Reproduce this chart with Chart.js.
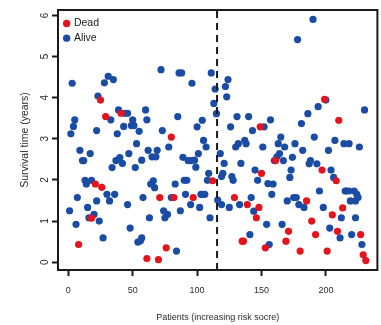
<!DOCTYPE html>
<html>
<head>
<meta charset="utf-8">
<script src="https://cdn.jsdelivr.net/npm/chart.js@4/dist/chart.umd.min.js"></script>
<style>
  html, body { margin: 0; padding: 0; background: #ffffff; }
  canvas { display: block; }
</style>
</head>
<body>
<canvas id="chart" width="381" height="325"></canvas>
<script>
// Patients ordered by increasing risk score (index) and their survival time in years.
const deadPatient = [8, 18, 21, 25, 26, 29, 41, 61, 70, 71, 76, 80, 82, 97, 112, 129, 135, 136, 139, 146,
  148, 149, 150, 153, 161, 169, 171, 180, 185, 189, 192, 197, 199, 201, 205, 208, 209, 210, 213, 227, 229, 231];
const deadYears = [0.43, 1.07, 1.90, 3.94, 1.82, 3.54, 3.62, 0.09, 0.06, 1.57, 0.35, 3.04, 1.57, 1.57, 1.98, 1.57, 0.51, 0.51, 1.40, 1.08,
  1.33, 3.29, 2.16, 0.35, 2.47, 0.51, 0.75, 0.27, 1.49, 1.00, 0.67, 2.24, 3.96, 0.27, 1.15, 1.98, 0.75, 3.45, 1.32, 0.67, 0.18, 0.04];

const alivePatient = [1, 2, 3, 4, 5, 6, 7, 9, 11, 12, 13, 14, 15, 16, 17, 18, 20, 22, 22, 23,
  24, 27, 28, 30, 31, 32, 33, 34, 35, 36, 37, 38, 39, 40, 42, 43, 44, 46, 46, 47,
  48, 49, 50, 51, 52, 53, 54, 55, 56, 57, 57, 58, 60, 61, 62, 63, 64, 65, 66, 67,
  68, 69, 72, 73, 74, 75, 77, 78, 80, 83, 84, 85, 86, 87, 88, 89, 90, 91, 92, 93,
  95, 95, 96, 98, 99, 100, 101, 102, 103, 104, 104, 105, 106, 107, 108, 109, 110, 111, 113, 114,
  115, 116, 118, 119, 119, 120, 121, 122, 123, 124, 125, 126, 127, 128, 130, 131, 132, 133, 134, 137,
  138, 140, 141, 142, 143, 144, 145, 147, 151, 152, 154, 155, 156, 157, 158, 159, 160, 162, 163, 164,
  165, 166, 167, 168, 170, 172, 173, 174, 175, 176, 177, 178, 179, 181, 182, 183, 186, 187, 188, 190,
  191, 193, 194, 195, 198, 200, 202, 203, 204, 206, 207, 211, 212, 214, 215, 216, 218, 218, 219, 220,
  222, 223, 223, 224, 225, 226, 228, 230];
const aliveYears = [1.25, 3.12, 4.35, 3.30, 3.46, 0.92, 1.57, 2.72, 2.47, 2.47, 1.99, 1.90, 1.33, 1.08, 2.64, 1.99, 1.16, 3.20, 1.49, 4.04,
  1.00, 0.59, 4.36, 1.65, 4.52, 1.49, 3.46, 2.30, 4.44, 1.65, 2.47, 3.12, 3.70, 2.54, 2.40, 3.30, 3.62, 3.62, 1.40, 2.64,
  0.83, 3.32, 3.46, 3.32, 2.30, 2.88, 0.49, 3.18, 0.52, 2.48, 0.59, 1.57, 3.70, 3.46, 2.72, 1.08, 1.90, 2.56, 1.98, 1.81,
  2.56, 2.72, 4.68, 3.20, 1.25, 1.08, 1.16, 2.80, 1.57, 1.90, 0.27, 3.54, 4.60, 1.25, 4.60, 2.55, 1.99, 1.65, 1.99, 2.47,
  2.47, 1.40, 4.35, 2.48, 2.31, 3.29, 2.64, 1.33, 1.65, 3.45, 1.65, 2.96, 1.65, 2.80, 1.99, 2.16, 1.08, 4.60, 3.86, 4.21,
  3.61, 1.51, 2.64, 2.08, 1.40, 2.16, 2.40, 4.27, 4.02, 4.44, 1.33, 3.29, 2.08, 1.99, 2.80, 3.54, 2.88, 1.40, 2.40, 2.96,
  2.88, 3.54, 0.67, 1.57, 3.20, 1.24, 2.24, 1.99, 2.80, 3.29, 0.92, 1.91, 0.43, 3.46, 1.65, 1.90, 2.47, 2.56, 2.88, 2.64,
  3.04, 0.92, 2.47, 2.80, 1.49, 2.06, 2.24, 2.55, 1.57, 2.88, 1.57, 5.41, 1.40, 3.37, 2.72, 1.33, 3.61, 2.39, 2.47, 5.90,
  3.04, 2.39, 3.78, 1.73, 1.33, 3.94, 2.72, 0.83, 2.24, 2.06, 2.96, 0.59, 1.08, 2.88, 1.73, 1.73, 2.88, 1.73, 1.49, 0.67,
  1.73, 1.49, 1.08, 1.65, 1.57, 2.80, 0.43, 3.70];

const seriesLabels = ['Dead', 'Alive'];
const xTicks = [0, 50, 100, 150, 200];
const yTicks = [0, 1, 2, 3, 4, 5, 6];
const xRange = [-8, 240];
const yRange = [-0.19, 6.13];
const riskCutoff = 115.5;

const RED = '#e3141d';
const BLUE = '#1b4ca3';
const INK = '#1a1a1a';
const TEXT = '#2a2a2a';
const SANS = "'Liberation Sans', Arial, sans-serif";

const toPoints = (xs, ys) => xs.map((x, i) => ({ x, y: ys[i] }));

// Frame around the plotting region
const frame = {
  id: 'frame',
  afterDatasetsDraw(chart) {
    const { ctx, chartArea: a } = chart;
    ctx.save();
    ctx.strokeStyle = INK;
    ctx.lineWidth = 2;
    ctx.strokeRect(a.left, a.top, a.right - a.left, a.bottom - a.top);
    ctx.restore();
  }
};

// Put the key just inside the upper-left corner of the plot
const keyPlacement = {
  id: 'keyPlacement',
  afterLayout(chart) {
    const lg = chart.legend;
    const a = chart.chartArea;
    if (!lg) return;
    lg.left = a.left + 2.4;
    lg.top = a.top + 4;
    lg.right = a.right;
    lg.bottom = a.bottom;
  }
};

new Chart(document.getElementById('chart'), {
  type: 'scatter',
  data: {
    datasets: [
      {
        label: seriesLabels[0],
        data: toPoints(deadPatient, deadYears),
        backgroundColor: RED,
        borderWidth: 0,
        pointRadius: 3.6,
        pointHoverRadius: 3.6,
        order: 1
      },
      {
        label: seriesLabels[1],
        data: toPoints(alivePatient, aliveYears),
        backgroundColor: BLUE,
        borderWidth: 0,
        pointRadius: 3.6,
        pointHoverRadius: 3.6,
        order: 2
      },
      {
        type: 'line',
        label: 'cutoff',
        data: [{ x: riskCutoff, y: yRange[0] }, { x: riskCutoff, y: yRange[1] }],
        borderColor: INK,
        borderWidth: 2,
        borderDash: [7, 5],
        pointRadius: 0,
        fill: false,
        order: 0
      }
    ]
  },
  options: {
    responsive: false,
    animation: false,
    devicePixelRatio: 1,
    layout: { padding: { top: 7, right: 3, left: 0, bottom: 0 } },
    plugins: {
      tooltip: { enabled: false },
      legend: {
        position: 'chartArea',
        align: 'start',
        labels: {
          usePointStyle: true,
          pointStyle: 'circle',
          boxWidth: 4.1,
          boxHeight: 5.2,
          padding: 4.2,
          color: INK,
          font: { family: SANS, size: 10.5 },
          filter: (item) => seriesLabels.includes(item.text)
        }
      }
    },
    scales: {
      x: {
        type: 'linear',
        min: xRange[0],
        max: xRange[1],
        afterBuildTicks: (s) => { s.ticks = xTicks.map((v) => ({ value: v })); },
        afterFit: (s) => { s.height = 55; },
        grid: { drawOnChartArea: false, drawTicks: true, tickLength: 6, tickWidth: 2, tickColor: INK },
        border: { display: false },
        ticks: { autoSkip: false, maxRotation: 0, padding: 9, color: TEXT, font: { family: SANS, size: 9 } },
        title: {
          display: true,
          text: 'Patients (increasing risk socre)',
          color: TEXT,
          font: { family: SANS, size: 9 },
          padding: { top: 0, bottom: 2.5 }
        }
      },
      y: {
        type: 'linear',
        min: yRange[0],
        max: yRange[1],
        afterBuildTicks: (s) => { s.ticks = yTicks.map((v) => ({ value: v })); },
        afterFit: (s) => { s.width = 58; },
        grid: { drawOnChartArea: false, drawTicks: true, tickLength: 6, tickWidth: 2, tickColor: INK },
        border: { display: false },
        ticks: { autoSkip: false, minRotation: 90, maxRotation: 90, crossAlign: 'center', padding: 4, color: TEXT, font: { family: SANS, size: 10 } },
        title: {
          display: true,
          text: 'Survival time (years)',
          color: TEXT,
          font: { family: SANS, size: 10.5 },
          padding: { top: 18.7, bottom: 0 }
        }
      }
    }
  },
  plugins: [frame, keyPlacement]
});
</script>
</body>
</html>
